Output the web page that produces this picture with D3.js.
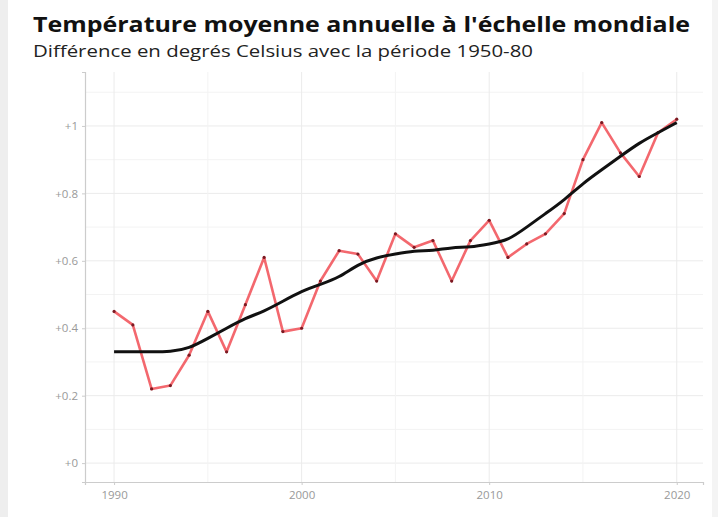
<!DOCTYPE html>
<html><head><meta charset="utf-8">
<script src="https://cdn.jsdelivr.net/npm/d3@7"></script>
<style>
html,body{margin:0;padding:0;background:#fff;}
svg{display:block;}
</style></head>
<body>
<script>
const years = [1990,1991,1992,1993,1994,1995,1996,1997,1998,1999,2000,2001,2002,2003,2004,2005,2006,2007,2008,2009,2010,2011,2012,2013,2014,2015,2016,2017,2018,2019,2020];
const annual = [0.45,0.41,0.22,0.23,0.32,0.45,0.33,0.47,0.61,0.39,0.40,0.54,0.63,0.62,0.54,0.68,0.64,0.66,0.54,0.66,0.72,0.61,0.65,0.68,0.74,0.90,1.01,0.92,0.85,0.98,1.02];
const trend = [0.33,0.33,0.33,0.33,0.34,0.37,0.40,0.43,0.45,0.48,0.51,0.53,0.55,0.59,0.61,0.62,0.63,0.63,0.64,0.64,0.65,0.66,0.70,0.74,0.78,0.83,0.87,0.91,0.95,0.98,1.01];
const yTicks = [0,0.2,0.4,0.6,0.8,1];
const yMinor = [0.1,0.3,0.5,0.7,0.9,1.1];
const xTicks = [1990,2000,2010,2020];
const xMinor = [1995,2005,2015];
const title = "Température moyenne annuelle à l'échelle mondiale";
const subtitle = "Différence en degrés Celsius avec la période 1950-80";

const W = 718, H = 517;
const svg = d3.select("body").append("svg").attr("width", W).attr("height", H);

svg.append("rect").attr("x",0).attr("y",0).attr("width",8).attr("height",H).attr("fill","#eeeeee");
svg.append("rect").attr("x",712).attr("y",0).attr("width",6).attr("height",H).attr("fill","#f4f4f4");

const x = d3.scaleLinear().domain([1988.45, 2021.4]).range([85, 703]);
const y = d3.scaleLinear().domain([-0.056, 1.16]).range([482, 72]);

const grid = svg.append("g");
grid.selectAll(".hmin").data(yMinor).join("line")
  .attr("x1",85).attr("x2",703).attr("y1",d=>y(d)).attr("y2",d=>y(d))
  .attr("stroke","#f3f3f3").attr("stroke-width",1);
grid.selectAll(".hmaj").data(yTicks).join("line")
  .attr("x1",85).attr("x2",703).attr("y1",d=>y(d)).attr("y2",d=>y(d))
  .attr("stroke","#ebebeb").attr("stroke-width",1);
grid.selectAll(".vmin").data(xMinor).join("line")
  .attr("x1",d=>x(d)).attr("x2",d=>x(d)).attr("y1",72).attr("y2",482)
  .attr("stroke","#f3f3f3").attr("stroke-width",1);
grid.selectAll(".vmaj").data(xTicks).join("line")
  .attr("x1",d=>x(d)).attr("x2",d=>x(d)).attr("y1",72).attr("y2",482)
  .attr("stroke","#ebebeb").attr("stroke-width",1);

const fmt = d => "+" + d3.format("~g")(d);
const yAxis = svg.append("g").attr("transform","translate(85,0)")
  .call(d3.axisLeft(y).tickValues(yTicks).tickFormat(fmt).tickSize(3).tickPadding(4));
const xAxis = svg.append("g").attr("transform","translate(0,482)")
  .call(d3.axisBottom(x).tickValues(xTicks).tickFormat(d3.format("d")).tickSize(3).tickPadding(6));
[yAxis,xAxis].forEach(a=>{
  a.select(".domain").attr("stroke","#cccccc").attr("stroke-width",1.2);
  a.selectAll(".tick line").attr("stroke","#cccccc");
  a.selectAll("text").attr("fill","#999999").style("font-family","'Open Sans', sans-serif").style("font-size","11.5px");
});

const line = d3.line().x((d,i)=>x(years[i])).y(d=>y(d));
svg.append("path").datum(annual).attr("d",line)
  .attr("fill","none").attr("stroke","#f0474e").attr("stroke-opacity",0.82)
  .attr("stroke-width",2.6).attr("stroke-linejoin","round");
svg.selectAll(".pt").data(annual).join("circle")
  .attr("cx",(d,i)=>x(years[i])).attr("cy",d=>y(d)).attr("r",1.6).attr("fill","#7a1a22");
svg.append("path").datum(trend).attr("d",d3.line().curve(d3.curveBasis).x((d,i)=>x(years[i])).y(d=>y(d)))
  .attr("fill","none").attr("stroke","#111").attr("stroke-width",3).attr("stroke-linejoin","round");

svg.append("text").attr("x",33).attr("y",32).text(title)
  .attr("textLength",657).attr("lengthAdjust","spacingAndGlyphs")
  .style("font-family","'Open Sans', sans-serif").style("font-weight","bold").style("font-size","22px").attr("fill","#111");
svg.append("text").attr("x",33).attr("y",57).text(subtitle)
  .attr("textLength",500).attr("lengthAdjust","spacingAndGlyphs")
  .style("font-family","'Open Sans', sans-serif").style("font-size","17px").attr("fill","#222");
</script>
</body></html>
